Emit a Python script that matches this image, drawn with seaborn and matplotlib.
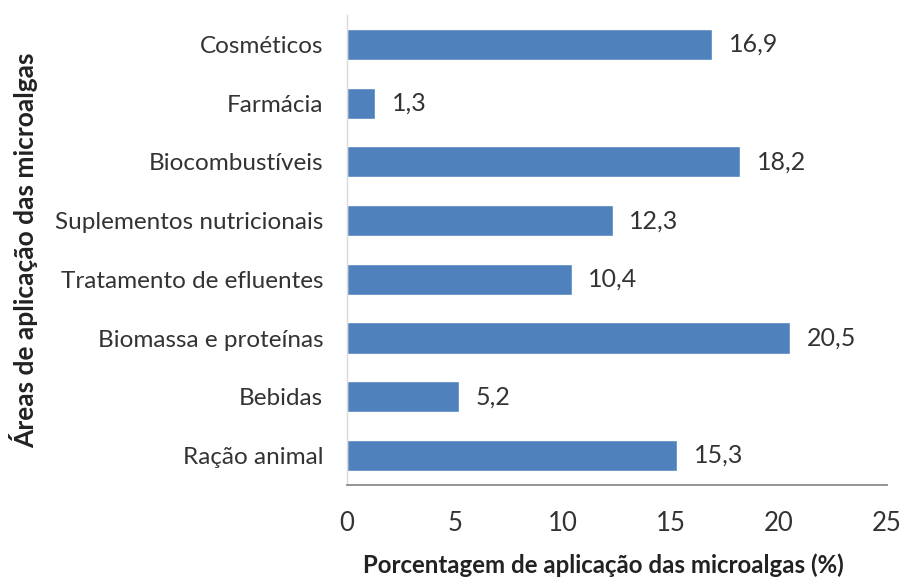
import matplotlib
matplotlib.use("Agg")
import matplotlib.pyplot as plt
import seaborn as sns
import pandas as pd

categorias = ["Cosméticos", "Farmácia", "Biocombustíveis", "Suplementos nutricionais",
              "Tratamento de efluentes", "Biomassa e proteínas", "Bebidas", "Ração animal"]
porcentagens = [16.9, 1.3, 18.2, 12.3, 10.4, 20.5, 5.2, 15.3]
ticks_x = [0, 5, 10, 15, 20, 25]

df = pd.DataFrame({"area": categorias, "pct": porcentagens})

sns.set_theme(style="white")
plt.rcParams["font.family"] = ["Lato", "DejaVu Sans"]

fig = plt.figure(figsize=(9.08, 5.82), dpi=100)
ax = fig.add_axes([0.382, 0.167, 0.595, 0.807])

sns.barplot(data=df, x="pct", y="area", orient="h", color="#4f81bd",
            saturation=1, width=0.53, ax=ax)

for patch, v in zip(ax.patches, porcentagens):
    y = patch.get_y() + patch.get_height() / 2
    ax.annotate(f"{v:.1f}".replace(".", ","), xy=(v, y), xytext=(12, 0),
                textcoords="offset points", va="center", ha="left",
                fontsize=18, color="#333333")

ax.set_xlim(0, 25)
ax.set_xticks(ticks_x)
ax.set_xticklabels([str(t) for t in ticks_x], fontsize=18.5, color="#333333")
ax.tick_params(axis="x", length=0, pad=19)
ax.tick_params(axis="y", length=0, pad=17, labelsize=17.5, labelcolor="#333333")

for side in ["top", "right"]:
    ax.spines[side].set_visible(False)
ax.spines["left"].set_color("#d9d9d9")
ax.spines["left"].set_linewidth(1.0)
ax.spines["bottom"].set_color("#8c8c8c")
ax.spines["bottom"].set_linewidth(1.3)

ax.set_xlabel("Porcentagem de aplicação das microalgas (%)", fontsize=17.3,
              fontweight="bold", color="#222222")
ax.xaxis.set_label_coords(0.474, -0.146)
ax.set_ylabel("Áreas de aplicação das microalgas", fontsize=19,
              fontweight="bold", color="#222222")
ax.yaxis.set_label_coords(-0.572, 0.5)

fig.savefig("out.png", dpi=100, facecolor="white")
